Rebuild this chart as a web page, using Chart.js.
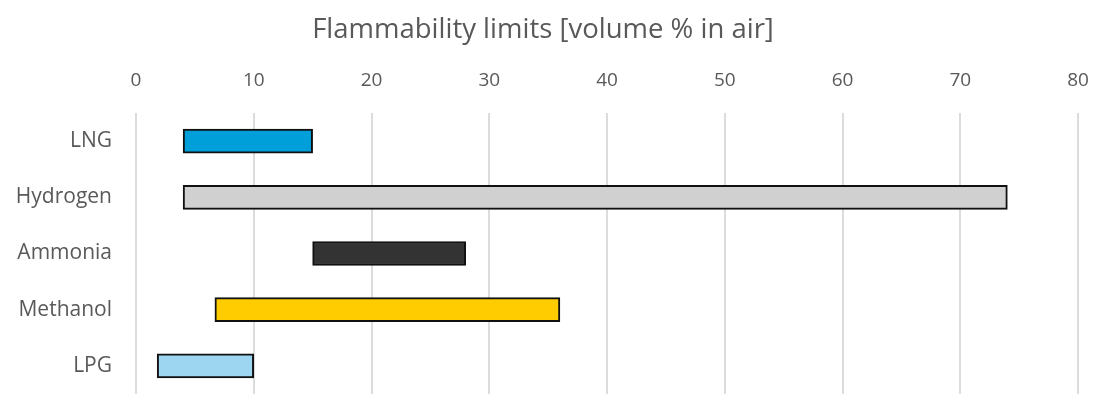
<!DOCTYPE html>
<html>
<head>
<meta charset="utf-8">
<script src="https://cdn.jsdelivr.net/npm/chart.js@4.4.1/dist/chart.umd.min.js"></script>
<style>
  html, body { margin: 0; padding: 0; background: #ffffff; }
  #wrap { width: 1096px; height: 394px; position: relative; }
</style>
</head>
<body>
<div id="wrap"><canvas id="chart" width="1096" height="394"></canvas></div>
<script>
// Fuels and their lower / upper flammability limits (volume % in air)
const fuels = ['LNG', 'Hydrogen', 'Ammonia', 'Methanol', 'LPG'];
const lowerLimits = [4, 4, 15, 6.7, 1.8];
const upperLimits = [15, 74, 28, 36, 10];
const fuelColors = ['#009fda', '#d0d0d0', '#333333', '#ffcc00', '#9dd6f0'];
const axisTicks = [0, 10, 20, 30, 40, 50, 60, 70, 80];
const chartTitle = 'Flammability limits [volume % in air]';

const textGrey = '#595959';
const fontFamily = '"Open Sans", "Noto Sans", sans-serif';

const ranges = fuels.map((_, i) => [lowerLimits[i], upperLimits[i]]);

new Chart(document.getElementById('chart'), {
  type: 'bar',
  data: {
    labels: fuels,
    datasets: [{
      data: ranges,
      backgroundColor: fuelColors,
      borderColor: '#111111',
      borderWidth: 2,
      borderSkipped: false,
      barThickness: 24
    }]
  },
  options: {
    indexAxis: 'y',
    responsive: false,
    animation: false,
    layout: { padding: { left: 0, right: 10, top: 0, bottom: 0 } },
    plugins: {
      legend: { display: false },
      tooltip: { enabled: false },
      title: {
        display: true,
        text: chartTitle,
        color: textGrey,
        padding: { top: 14, bottom: 0 },
        font: { family: fontFamily, size: 27.5, weight: 'normal', lineHeight: '32px' }
      }
    },
    scales: {
      x: {
        position: 'top',
        min: axisTicks[0],
        max: axisTicks[axisTicks.length - 1],
        afterBuildTicks: (scale) => { scale.ticks = axisTicks.map(v => ({ value: v })); },
        afterFit: (scale) => {
          // fixed band for the tick labels; the plot ends 18px from the right edge
          scale.height = 67;
          scale.paddingLeft = 0;
          scale.paddingRight = 18;
        },
        grid: { color: '#dcdcdc', lineWidth: 2, drawTicks: false },
        border: { display: false },
        ticks: {
          color: textGrey,
          padding: 21,
          font: { family: fontFamily, size: 19 }
        }
      },
      y: {
        afterFit: (scale) => {
          scale.width = 136;
          scale.paddingTop = 0;
          scale.paddingBottom = 0;
        },
        grid: { display: false, drawTicks: false },
        border: { display: false },
        ticks: {
          color: textGrey,
          padding: 24,
          font: { family: fontFamily, size: 21 }
        }
      }
    }
  }
});
</script>
</body>
</html>
